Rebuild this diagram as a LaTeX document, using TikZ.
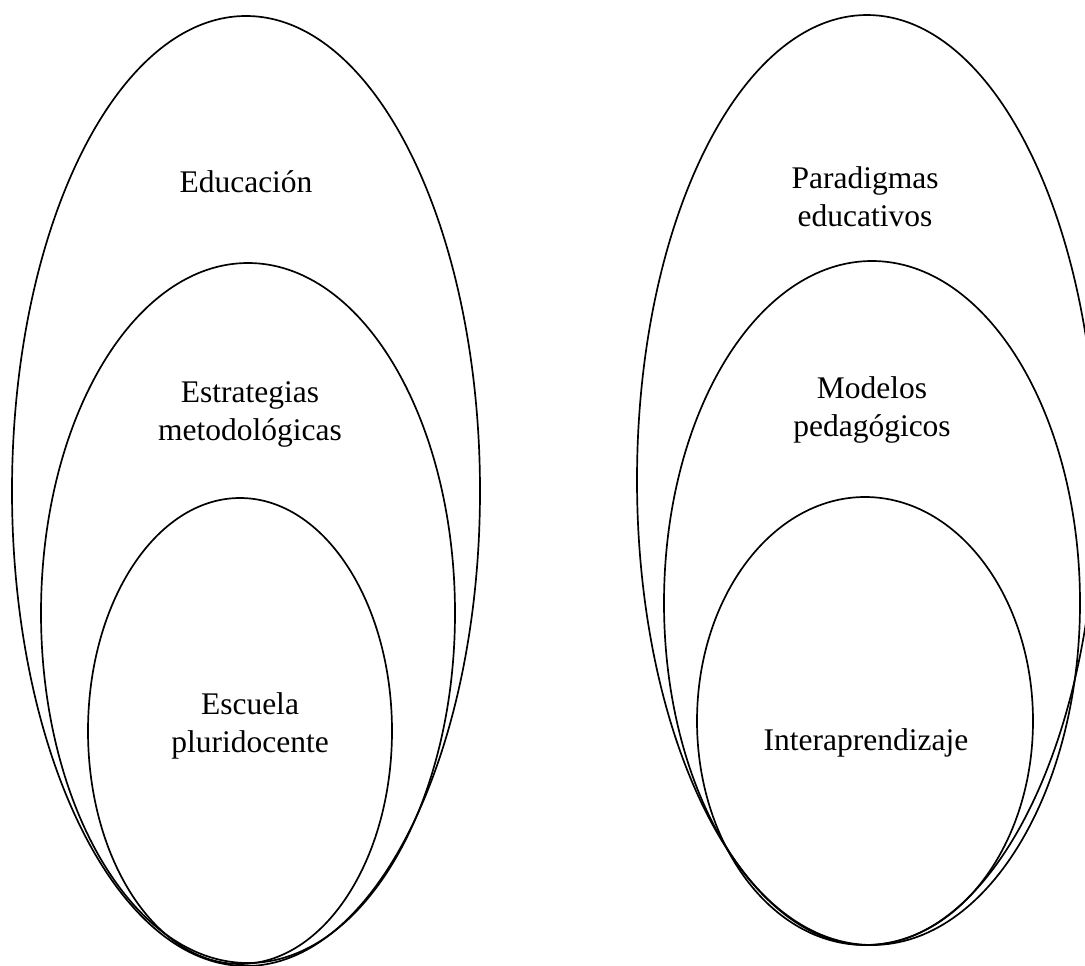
\documentclass[tikz,border=0pt]{standalone}
\usepackage{fontspec}
\setmainfont{Liberation Serif}
\usetikzlibrary{positioning}

\tikzset{
	oval/.style={line width=1.2pt, draw=black},
	ovaltext/.style={align=center, font=\fontsize{22.4}{27}\selectfont, inner sep=0pt}
}

\begin{document}
\begin{tikzpicture}[x=0.025cm, y=0.025cm]
		%%%%% START %%%%%
		\useasboundingbox (0, 0) rectangle (1085, -966);
		
		% left group
		\draw[oval] (246, -491) ellipse (234 and 475);
		\draw[oval] (248, -613) ellipse (207 and 350);
		\draw[oval] (240, -731) ellipse (152 and 233);
		
		\node[ovaltext] (educacion) at (246, -182) {Educación};
		\node[ovaltext] (estrategias) at (250, -414) {Estrategias\\metodológicas};
		\node[ovaltext] (escuela) at (250, -726) {Escuela\\pluridocente};
		
		% right group
		\draw[oval] (867, -480) ellipse (230 and 465);
		\draw[oval] (872, -603) ellipse (208 and 342);
		\draw[oval] (865, -721) ellipse (168 and 224);
		
		\node[ovaltext] (paradigmas) at (865, -197) {Paradigmas\\educativos};
		\node[ovaltext] (modelos) at (872, -410) {Modelos\\pedagógicos};
		\node[ovaltext] (interaprendizaje) at (866, -743) {Interaprendizaje};
		
		%%%%% END %%%%%
	\end{tikzpicture}
\end{document}
